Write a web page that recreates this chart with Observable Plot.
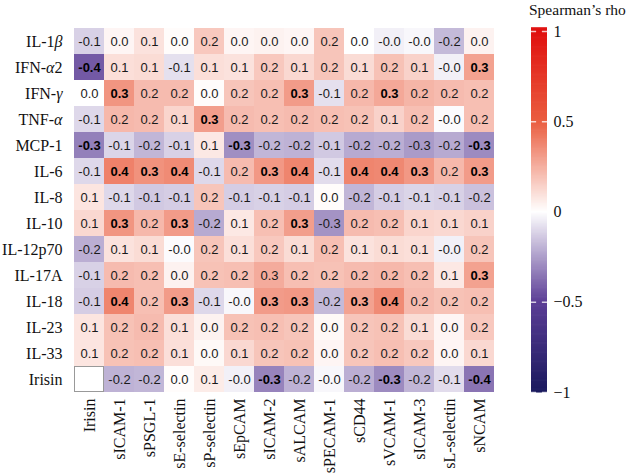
<!DOCTYPE html>
<html><head><meta charset="utf-8">
<script src="https://cdn.jsdelivr.net/npm/d3@7"></script>
<script src="https://cdn.jsdelivr.net/npm/@observablehq/plot@0.6"></script>
<style>
body{margin:0;background:#fff;}
#wrap{position:relative;width:635px;height:476px;overflow:hidden;}
#legend{position:absolute;left:530px;top:0;}
#ltitle{position:absolute;left:529px;top:1px;font:15.5px/17px 'Liberation Serif',serif;color:#111;white-space:nowrap;}
</style></head><body><div id="wrap"><div id="ltitle">Spearman’s rho</div></div>
<script>
const rows = ["IL-1β","IFN-α2","IFN-γ","TNF-α","MCP-1","IL-6","IL-8","IL-10","IL-12p70","IL-17A","IL-18","IL-23","IL-33","Irisin"];
const cols = ["Irisin","sICAM-1","sPSGL-1","sE-selectin","sP-selectin","sEpCAM","sICAM-2","sALCAM","sPECAM-1","sCD44","sVCAM-1","sICAM-3","sL-selectin","sNCAM"];
const rho = [
  [-0.12, 0.03, 0.09, 0.01, 0.17, 0.03, 0.04, 0.03, 0.18, 0.00,-0.04,-0.02,-0.18, 0.04],
  [-0.43, 0.10, 0.11,-0.08, 0.10, 0.09, 0.17, 0.12, 0.18, 0.11, 0.19, 0.14,-0.04, 0.29],
  [ 0.00, 0.33, 0.21, 0.21, 0.01, 0.18, 0.20, 0.31,-0.08, 0.22, 0.27, 0.23, 0.21, 0.20],
  [-0.10, 0.22, 0.21, 0.13, 0.30, 0.21, 0.20, 0.21, 0.20, 0.19, 0.14, 0.20,-0.01, 0.20],
  [-0.33,-0.11,-0.19,-0.12, 0.07,-0.29,-0.19,-0.20,-0.14,-0.22,-0.21,-0.26,-0.22,-0.30],
  [-0.10, 0.39, 0.34, 0.36,-0.10, 0.21, 0.32, 0.38,-0.09, 0.38, 0.37, 0.32, 0.22, 0.31],
  [ 0.08,-0.10,-0.14,-0.13, 0.18,-0.13,-0.12,-0.13, 0.01,-0.19,-0.13,-0.11,-0.12,-0.16],
  [ 0.12, 0.33, 0.22, 0.31,-0.22, 0.07, 0.20, 0.30,-0.28, 0.21, 0.20, 0.13, 0.12, 0.14],
  [-0.21, 0.09, 0.11,-0.01, 0.18, 0.10, 0.17, 0.11, 0.20, 0.09, 0.11, 0.10,-0.04, 0.18],
  [-0.12, 0.21, 0.20, 0.04, 0.19, 0.20, 0.26, 0.20, 0.19, 0.21, 0.22, 0.20, 0.07, 0.29],
  [-0.13, 0.38, 0.20, 0.31,-0.10,-0.02, 0.31, 0.32,-0.18, 0.29, 0.36, 0.21, 0.19, 0.20],
  [ 0.08, 0.19, 0.21, 0.10, 0.04, 0.19, 0.20, 0.18, 0.02, 0.18, 0.19, 0.11, 0.03, 0.17],
  [ 0.08, 0.19, 0.20, 0.10, 0.02, 0.12, 0.18, 0.19, 0.03, 0.18, 0.20, 0.17, 0.03, 0.12],
  [ null,-0.20,-0.19, 0.01, 0.06,-0.04,-0.32,-0.20,-0.02,-0.21,-0.30,-0.19,-0.09,-0.36]
];
const sig = [
  [0,0,0,0,0,0,0,0,0,0,0,0,0,0],
  [1,0,0,0,0,0,0,0,0,0,0,0,0,1],
  [0,1,0,0,0,0,0,1,0,0,1,0,0,0],
  [0,0,0,0,1,0,0,0,0,0,0,0,0,0],
  [1,0,0,0,0,1,0,0,0,0,0,0,0,1],
  [0,1,1,1,0,0,1,1,0,1,1,1,0,1],
  [0,0,0,0,0,0,0,0,0,0,0,0,0,0],
  [0,1,0,1,0,0,0,1,0,0,0,0,0,0],
  [0,0,0,0,0,0,0,0,0,0,0,0,0,0],
  [0,0,0,0,0,0,0,0,0,0,0,0,0,1],
  [0,1,0,1,0,0,1,1,0,1,1,0,0,0],
  [0,0,0,0,0,0,0,0,0,0,0,0,0,0],
  [0,0,0,0,0,0,0,0,0,0,0,0,0,0],
  [0,0,0,0,0,0,1,0,0,0,1,0,0,1]
];
const legendTicks = [-1, -0.5, 0, 0.5, 1];
const legendTickLabels = ["−1", "−0.5", "0", "0.5", "1"];
const colorDomain = [-1, -0.5, 0, 0.5, 1];
const colorRange = ["#1a1a5e", "#5c3e96", "#ffffff", "#ea5e40", "#e0100f"];

const cells = [];
rows.forEach((r, i) => cols.forEach((c, j) => cells.push({row: r, col: c, v: rho[i][j], bold: sig[i][j] === 1})));
const valid = cells.filter(d => d.v != null);
const missing = cells.filter(d => d.v == null);
const sans = "'Liberation Sans', Arial, sans-serif";
const colorOpt = {type: "linear", domain: colorDomain, range: colorRange};

const heat = Plot.plot({
  width: 635, height: 476,
  marginLeft: 68, marginRight: 135, marginTop: 28, marginBottom: 84,
  style: {fontFamily: "'Liberation Serif', serif", fontSize: "16px", background: "transparent", color: "#111"},
  x: {domain: cols, label: null, tickRotate: -90, tickSize: 0, tickPadding: 6, padding: 0},
  y: {domain: rows, label: null, tickSize: 0, tickPadding: 6, padding: 0},
  color: colorOpt,
  marks: [
    Plot.cell(valid, {x: "col", y: "row", fill: "v", inset: 0, shapeRendering: "crispEdges"}),
    Plot.cell(missing, {x: "col", y: "row", fill: "white", stroke: "#999", strokeWidth: 1, inset: 0.5}),
    Plot.text(valid.filter(d => !d.bold), {x: "col", y: "row", text: d => d.v.toFixed(1), fontFamily: sans, fontSize: 13, fill: "#1a1a1a"}),
    Plot.text(valid.filter(d => d.bold), {x: "col", y: "row", text: d => d.v.toFixed(1), fontFamily: sans, fontSize: 13, fontWeight: "bold", fill: "#000"})
  ]
});

// italicize Greek letters in row labels
heat.querySelectorAll('g[aria-label^="y-axis tick label"] text').forEach(t => {
  const s = t.textContent;
  if (/[αβγ]/.test(s)) {
    t.textContent = "";
    for (const part of s.split(/([αβγ])/)) {
      if (!part) continue;
      const ts = document.createElementNS("http://www.w3.org/2000/svg", "tspan");
      ts.textContent = part;
      if (/[αβγ]/.test(part)) ts.setAttribute("font-style", "italic");
      t.appendChild(ts);
    }
  }
});

const steps = d3.range(-1, 1.02, 0.005);
const legend = Plot.plot({
  width: 105, height: 476,
  marginLeft: 1, marginRight: 88, marginTop: 31, marginBottom: 84,
  style: {fontFamily: "'Liberation Serif', serif", fontSize: "16px", background: "transparent", color: "#111"},
  x: {domain: [0, 1], axis: null},
  y: {domain: [-1, 1], axis: "right", ticks: legendTicks, tickFormat: d => legendTickLabels[legendTicks.indexOf(d)], tickSize: 0, tickPadding: 6, label: null},
  color: colorOpt,
  marks: [
    Plot.rect(steps, {x1: 0, x2: 1, y1: d => d - 0.003, y2: d => d + 0.006, fill: d => Math.max(-1, Math.min(1, d))}),
    Plot.ruleY(legendTicks, {x1: 0, x2: 0.32, stroke: "#fff", strokeOpacity: 0.75, strokeWidth: 1.5}),
    Plot.ruleY(legendTicks, {x1: 0.68, x2: 1, stroke: "#fff", strokeOpacity: 0.75, strokeWidth: 1.5})
  ]
});
legend.id = "legend";

const wrap = document.getElementById("wrap");
wrap.insertBefore(heat, wrap.firstChild);
wrap.appendChild(legend);
</script></body></html>
